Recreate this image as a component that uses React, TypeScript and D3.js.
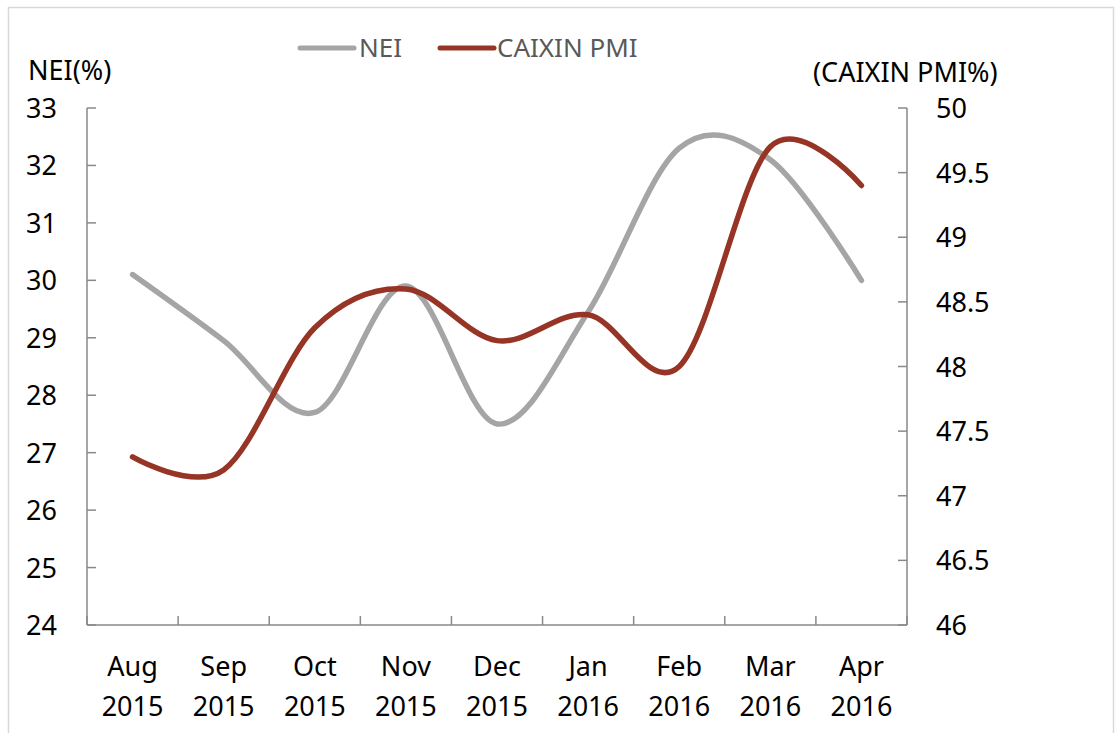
import React from 'react'
import * as d3 from 'd3'

const months = ['Aug', 'Sep', 'Oct', 'Nov', 'Dec', 'Jan', 'Feb', 'Mar', 'Apr']
const years = ['2015', '2015', '2015', '2015', '2015', '2016', '2016', '2016', '2016']
const nei = [30.1, 28.95, 27.7, 29.9, 27.5, 29.45, 32.3, 32.1, 30.0]
const pmi = [47.3, 47.2, 48.3, 48.6, 48.2, 48.4, 48.0, 49.7, 49.4]
const leftTicks = [24, 25, 26, 27, 28, 29, 30, 31, 32, 33]
const rightTicks = [46, 46.5, 47, 47.5, 48, 48.5, 49, 49.5, 50]

const W = 1115
const H = 733
const margin = { left: 87, right: 907, top: 108, bottom: 625 }
const font = '"Noto Sans", sans-serif'
const axisColor = '#898989'
const neiColor = '#a5a5a5'
const pmiColor = '#963425'

const App = () => {
  const idx = d3.range(months.length)
  const x = d3.scaleBand<number>().domain(idx).range([margin.left, margin.right])
  const cx = (i: number) => (x(i) as number) + x.bandwidth() / 2
  const yL = d3.scaleLinear().domain([24, 33]).range([margin.bottom, margin.top])
  const yR = d3.scaleLinear().domain([46, 50]).range([margin.bottom, margin.top])

  const curve = d3.curveCardinal.tension(0)
  const neiLine = d3
    .line<number>()
    .curve(curve)
    .x((i) => cx(i))
    .y((i) => yL(nei[i]))
  const pmiLine = d3
    .line<number>()
    .curve(curve)
    .x((i) => cx(i))
    .y((i) => yR(pmi[i]))

  const bounds = idx.map((i) => x(i) as number).concat([margin.right])

  return (
    <svg
      width={W}
      height={H}
      style={{ position: 'absolute', left: 0, top: 0, background: '#fff' }}
      fontFamily={font}
    >
      <rect x={8.5} y={7.5} width={1105} height={760} fill="#fff" stroke="#d9d9d9" strokeWidth={1.5} />

      {/* legend */}
      <line x1={300} x2={354} y1={48} y2={48} stroke={neiColor} strokeWidth={5} strokeLinecap="round" />
      <text x={359} y={57} fontSize={26} fill="#595959">NEI</text>
      <line x1={440} x2={494} y1={48} y2={48} stroke={pmiColor} strokeWidth={5} strokeLinecap="round" />
      <text x={497} y={57} fontSize={26} fill="#595959">CAIXIN PMI</text>

      {/* axis titles */}
      <text x={28} y={80} fontSize={27} fill="#000">NEI(%)</text>
      <text x={813} y={82} fontSize={27} fill="#000">(CAIXIN PMI%)</text>

      {/* left axis */}
      <line x1={margin.left} x2={margin.left} y1={margin.top} y2={margin.bottom} stroke={axisColor} strokeWidth={1.5} />
      {leftTicks.map((t) => (
        <g key={'l' + t}>
          <line x1={margin.left} x2={margin.left + 9} y1={yL(t)} y2={yL(t)} stroke={axisColor} strokeWidth={1.5} />
          <text x={57} y={yL(t) + 10} fontSize={27} textAnchor="end" fill="#000">{t}</text>
        </g>
      ))}

      {/* right axis */}
      <line x1={margin.right} x2={margin.right} y1={margin.top} y2={margin.bottom} stroke={axisColor} strokeWidth={1.5} />
      {rightTicks.map((t) => (
        <g key={'r' + t}>
          <line x1={margin.right - 9} x2={margin.right} y1={yR(t)} y2={yR(t)} stroke={axisColor} strokeWidth={1.5} />
          <text x={936} y={yR(t) + 10} fontSize={27} fill="#000">{t}</text>
        </g>
      ))}

      {/* bottom axis */}
      <line x1={margin.left} x2={margin.right} y1={margin.bottom} y2={margin.bottom} stroke={axisColor} strokeWidth={1.5} />
      {bounds.map((b, i) => (
        <line key={'b' + i} x1={b} x2={b} y1={margin.bottom - 9} y2={margin.bottom} stroke={axisColor} strokeWidth={1.5} />
      ))}
      {idx.map((i) => (
        <g key={'x' + i}>
          <text x={cx(i)} y={676} fontSize={27} textAnchor="middle" fill="#000">{months[i]}</text>
          <text x={cx(i)} y={716} fontSize={27} textAnchor="middle" fill="#000">{years[i]}</text>
        </g>
      ))}

      {/* series */}
      <path d={neiLine(idx) as string} fill="none" stroke={neiColor} strokeWidth={5.5} strokeLinecap="round" strokeLinejoin="round" />
      <path d={pmiLine(idx) as string} fill="none" stroke={pmiColor} strokeWidth={5.5} strokeLinecap="round" strokeLinejoin="round" />
    </svg>
  )
}

export default App
